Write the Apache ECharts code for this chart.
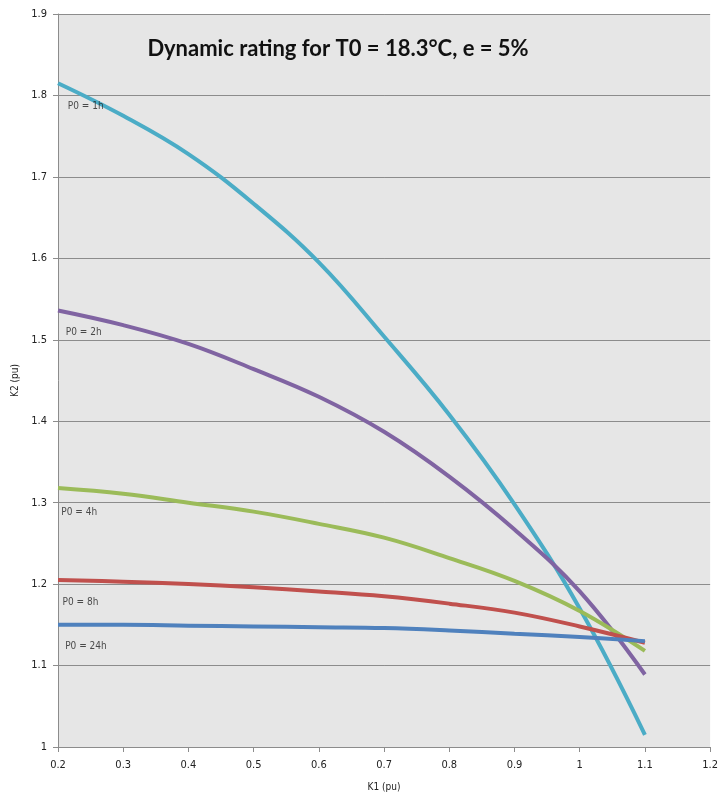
<!DOCTYPE html>
<html>
<head>
<meta charset="utf-8">
<script src="https://cdn.jsdelivr.net/npm/echarts@6/dist/echarts.min.js"></script>
<style>html,body{margin:0;padding:0;background:#fff}#c{width:721px;height:800px}</style>
</head>
<body>
<div id="c"></div>
<script>
const k1 = [0.2, 0.3, 0.4, 0.5, 0.6, 0.7, 0.8, 0.9, 1.0, 1.1];
const p0_1h  = [1.815, 1.775, 1.728, 1.667, 1.595, 1.504, 1.408, 1.298, 1.170, 1.015];
const p0_2h  = [1.536, 1.518, 1.495, 1.464, 1.430, 1.387, 1.332, 1.267, 1.191, 1.089];
const p0_4h  = [1.318, 1.311, 1.300, 1.289, 1.274, 1.257, 1.232, 1.204, 1.167, 1.118];
const p0_8h  = [1.205, 1.203, 1.200, 1.196, 1.191, 1.185, 1.176, 1.165, 1.148, 1.128];
const p0_24h = [1.150, 1.150, 1.149, 1.148, 1.147, 1.146, 1.143, 1.139, 1.135, 1.130];
const seriesNames = ['P0 = 1h', 'P0 = 2h', 'P0 = 4h', 'P0 = 8h', 'P0 = 24h'];
const seriesData = [p0_1h, p0_2h, p0_4h, p0_8h, p0_24h];
// annotation anchor points (K1, K2) for the curve labels
const labelK1 = [0.215, 0.212, 0.205, 0.207, 0.211];
const labelK2 = [1.787, 1.509, 1.288, 1.178, 1.124];
const titleText = 'Dynamic rating for T0 = 18.3°C, e = 5%';
const xName = 'K1 (pu)';
const yName = 'K2 (pu)';

const colors = ['#4bacc6', '#8064a2', '#9bbb59', '#c0504d', '#4f81bd'];

const chart = echarts.init(document.getElementById('c'), null, {renderer: 'canvas'});
const series = seriesNames.map((n, i) => ({
  name: n,
  type: 'line',
  smooth: 0.4,
  symbol: 'none',
  data: k1.map((x, j) => [x, seriesData[i][j]]),
  lineStyle: {width: 4, color: colors[i]},
  itemStyle: {color: colors[i]},
  z: 5 + i
}));
series.push({
  name: 'labels',
  type: 'scatter',
  symbolSize: 0,
  silent: true,
  z: 30,
  data: seriesNames.map((n, i) => ({value: [labelK1[i], labelK2[i]], name: n})),
  label: {
    show: true, position: 'right', distance: 0,
    formatter: p => p.name, color: '#222', fontSize: 10,
    fontFamily: 'DejaVu Sans Condensed, DejaVu Sans', align: 'left', verticalAlign: 'middle'
  }
});

chart.setOption({
  animation: false,
  backgroundColor: '#ffffff',
  title: {
    text: titleText,
    left: 333, top: 33, textAlign: 'center',
    textStyle: {fontFamily: 'Lato', fontWeight: 'bold', fontSize: 22, color: '#111'}
  },
  grid: {
    left: 58, right: 7, top: 14, bottom: 53,
    show: true, backgroundColor: '#e6e6e6', borderWidth: 0
  },
  xAxis: {
    type: 'value', min: 0.2, max: 1.2, interval: 0.1,
    name: xName, nameLocation: 'middle', nameGap: 35,
    nameTextStyle: {fontFamily: 'DejaVu Sans Condensed', fontSize: 10, color: '#222'},
    axisLine: {show: true, lineStyle: {color: '#8c8c8c', width: 1}},
    axisTick: {show: true, length: 5, lineStyle: {color: '#8c8c8c'}},
    axisLabel: {fontFamily: 'DejaVu Sans Condensed', fontSize: 11, color: '#222', margin: 13,
      formatter: v => String(Math.round(v * 10) / 10)},
    splitLine: {show: false}
  },
  yAxis: {
    type: 'value', min: 1, max: 1.9, interval: 0.1,
    name: yName, nameLocation: 'middle', nameGap: 38, nameRotate: 90,
    nameTextStyle: {fontFamily: 'DejaVu Sans Condensed', fontSize: 10, color: '#222'},
    axisLine: {show: true, lineStyle: {color: '#8c8c8c', width: 1}},
    axisTick: {show: true, length: 5, lineStyle: {color: '#8c8c8c'}},
    axisLabel: {fontFamily: 'DejaVu Sans Condensed', fontSize: 11, color: '#222', margin: 11,
      formatter: v => String(Math.round(v * 10) / 10)},
    splitLine: {show: true, lineStyle: {color: '#8c8c8c', width: 1}}
  },
  series: series
});
</script>
</body>
</html>
